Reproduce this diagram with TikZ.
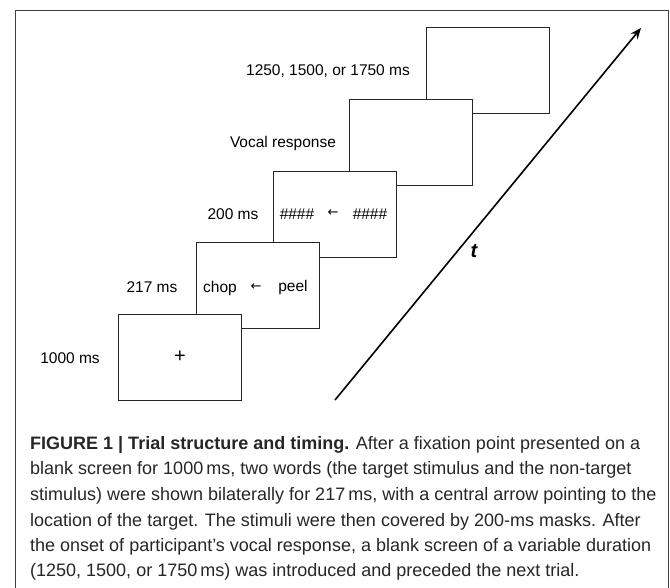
\documentclass[tikz,border=0pt]{standalone}
\usepackage{fontspec}
\setmainfont{Liberation Sans}
\newfontfamily\arrowfont{DejaVu Sans}
\newfontfamily\capfont{Liberation Sans}
\usetikzlibrary{arrows.meta}
\begin{document}
\begin{tikzpicture}[x=1pt,y=-1pt,
  screen/.style={draw=black!85, line width=1pt, fill=white, minimum width=123pt, minimum height=86pt, inner sep=0pt},
  lbl/.style={font=\fontsize{15.5}{18}\selectfont, inner sep=0pt},
  smallarrow/.style={font=\arrowfont\fontsize{13}{14}\selectfont, inner sep=0pt},
  capline/.style={anchor=base west, inner sep=0pt, font=\capfont\fontsize{18}{20}\selectfont, text=black!85}]
\useasboundingbox (0,0) rectangle (670,587);
% outer frame
\draw[black!75, line width=0.8pt] (15,590) -- (15,10) -- (668,10) -- (668,590);
% screens, back to front
\node[screen] (s5) at (487.5,70) {};
\node[screen] (s4) at (411,142) {};
\node[screen] (s3) at (334.5,214) {};
\node[screen] (s2) at (257.5,285) {};
\node[screen] (s1) at (180,357) {};
% labels
\node[lbl] (l5) at (328,71) {1250, 1500, or 1750 ms};
\node[lbl] (l4) at (283,143) {Vocal response};
\node[lbl] (l3) at (233,214) {200 ms};
\node[lbl] (l2) at (152,287) {217 ms};
\node[lbl] (l1) at (70,358) {1000 ms};
% contents
\node[lbl, font=\fontsize{20}{22}\selectfont] (plus) at (180,357) {+};
\node[lbl] (chop) at (220,288) {chop};
\node[smallarrow] (a2) at (256,287) {←};
\node[lbl] (peel) at (293,287) {peel};
\node[lbl] (m1) at (297,214) {\#\#\#\#};
\node[smallarrow] (a3) at (333,213) {←};
\node[lbl] (m2) at (370,214) {\#\#\#\#};
% time arrow
\coordinate (ts) at (335,400);
\coordinate (te) at (641,28);
\draw[line width=1.6pt, -{Stealth[length=11pt,width=9pt]}] (ts) -- (te);
\node[font=\bfseries\itshape\fontsize{20}{22}\selectfont, inner sep=0pt] (t) at (474,251) {t};
% caption
\node[capline] (c1) at (30,449) {\textbf{FIGURE 1 | Trial structure and timing.} After a fixation point presented on a};
\node[capline] (c2) at (30,474.5) {blank screen for 1000\,ms, two words (the target stimulus and the non-target};
\node[capline] (c3) at (30,500) {stimulus) were shown bilaterally for 217\,ms, with a central arrow pointing to the};
\node[capline] (c4) at (30,526) {location of the target. The stimuli were then covered by 200-ms masks. After};
\node[capline] (c5) at (30,551) {the onset of participant’s vocal response, a blank screen of a variable duration};
\node[capline] (c6) at (30,576) {(1250, 1500, or 1750\,ms) was introduced and preceded the next trial.};
\end{tikzpicture}
\end{document}
